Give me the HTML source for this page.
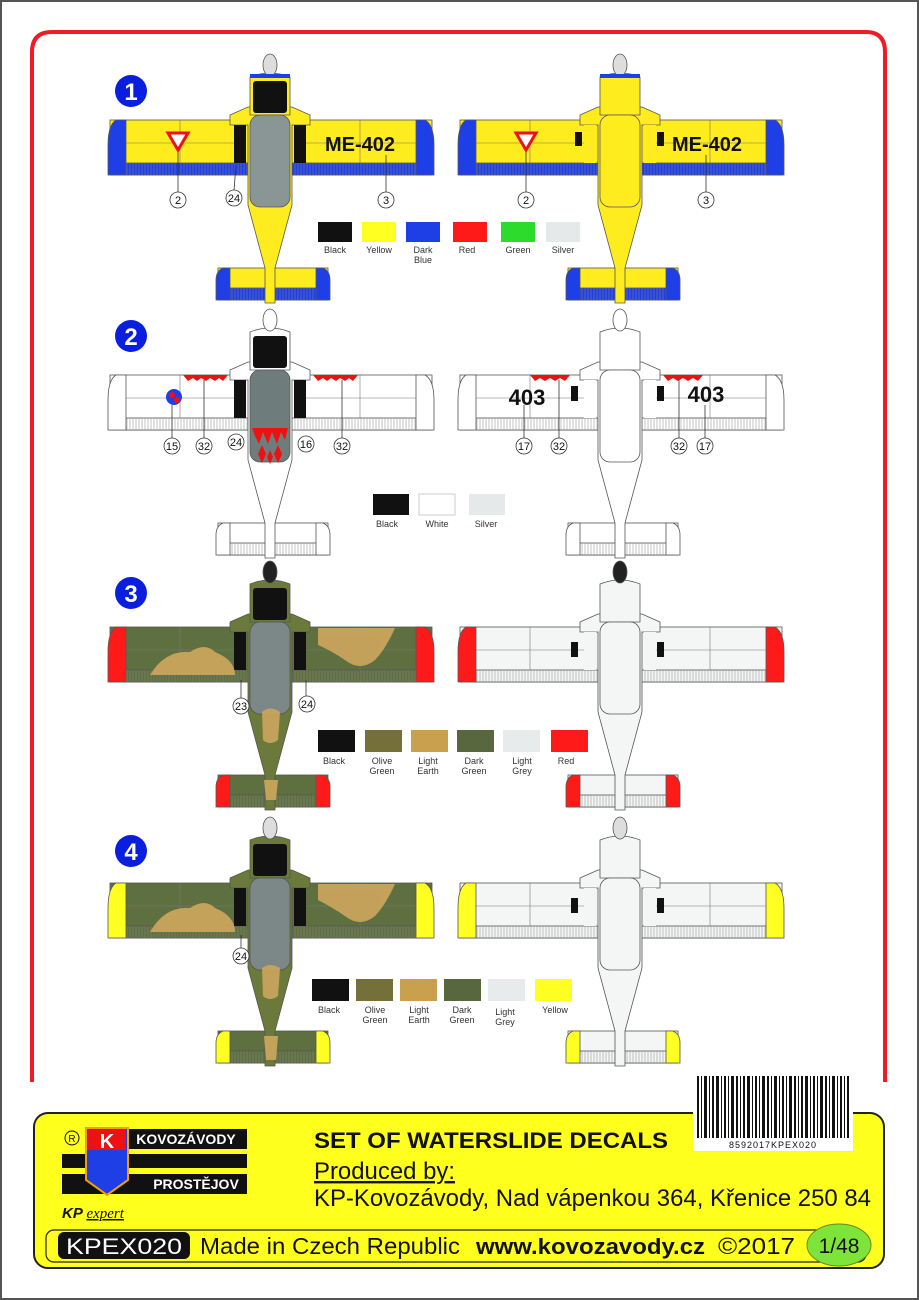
<!DOCTYPE html>
<html><head><meta charset="utf-8">
<style>
html,body{margin:0;padding:0;background:#fff;}
svg{display:block;}
text{font-family:"Liberation Sans",Arial,sans-serif;}
.w{stroke:#555;stroke-width:0.8;}
.lb{font-size:9px;fill:#333;text-anchor:middle;}
.cn{fill:#fff;stroke:#333;stroke-width:0.8;}
.cnt{font-size:11px;fill:#111;text-anchor:middle;}
</style></head><body>
<svg width="919" height="1300" viewBox="0 0 919 1300" xmlns="http://www.w3.org/2000/svg">
<defs>
<pattern id="hatch" width="3" height="10" patternUnits="userSpaceOnUse">
<line x1="1" y1="0" x2="1" y2="10" stroke="#888" stroke-width="0.5"/>
</pattern>
<g id="plane">
 <rect x="-160" y="65" width="322" height="55" fill="var(--w)" class="w"/>
 <rect x="-160" y="108" width="322" height="12" fill="var(--te)" class="w"/>
 <rect x="-144" y="108" width="290" height="12" fill="url(#hatch)"/>
 <path d="M-144 65 L-154 65 Q-162 70 -162 90 L-162 120 L-144 120 Z" fill="var(--t)" class="w"/>
 <path d="M146 65 L155 65 Q164 70 164 90 L164 120 L146 120 Z" fill="var(--t)" class="w"/>
 <line x1="-144" y1="88" x2="-30" y2="88" stroke="#777" stroke-width="0.6"/>
 <line x1="30" y1="88" x2="146" y2="88" stroke="#777" stroke-width="0.6"/>
 <line x1="-90" y1="65" x2="-90" y2="108" stroke="#777" stroke-width="0.6"/>
 <line x1="90" y1="65" x2="90" y2="108" stroke="#777" stroke-width="0.6"/>
 <rect x="-52" y="213" width="110" height="32" fill="var(--w)" class="w"/>
 <rect x="-52" y="233" width="110" height="12" fill="var(--te)" class="w"/>
 <rect x="-40" y="233" width="86" height="12" fill="url(#hatch)"/>
 <path d="M-40 213 L-47 213 Q-54 216 -54 225 L-54 245 L-40 245 Z" fill="var(--t)" class="w"/>
 <path d="M46 213 L53 213 Q60 216 60 225 L60 245 L46 245 Z" fill="var(--t)" class="w"/>
 <path d="M-40 60 L-22 52 L22 52 L40 60 L40 70 L22 70 L22 150 L5 213 L5 248 L-5 248 L-5 213 L-22 150 L-22 70 L-40 70 Z" fill="var(--f)" class="w"/>
 <path d="M-20 22 Q0 14 20 22 L20 60 L-20 60 Z" fill="var(--f)" class="w"/>
 <ellipse cx="0" cy="10" rx="7" ry="11" fill="var(--sp)" stroke="#555" stroke-width="0.8"/>
 <rect x="-17" y="26" width="34" height="32" rx="3" fill="var(--n)"/>
 <rect x="-20" y="60" width="40" height="92" rx="10" fill="var(--c)" class="w"/>
 <rect x="-36" y="70" width="12" height="38" fill="var(--p)"/>
 <rect x="24" y="70" width="12" height="38" fill="var(--p)"/>
</g>
</defs>

<rect x="1" y="1" width="917" height="1298" fill="#fff" stroke="#555" stroke-width="2"/>
<path d="M32 1082 L32 52 Q32 32 52 32 L866 32 Q885 32 885 52 L885 1082" fill="none" stroke="#ee1c24" stroke-width="4"/>

<g fill="#0a1ee0">
<circle cx="131" cy="91" r="16"/><circle cx="131" cy="336" r="16"/><circle cx="131" cy="593" r="16"/><circle cx="131" cy="851" r="16"/>
</g>
<g fill="#fff" font-weight="bold" font-size="24" text-anchor="middle" font-family="Liberation Sans">
<text x="131" y="100">1</text><text x="131" y="345">2</text><text x="131" y="602">3</text><text x="131" y="860">4</text>
</g>

<!-- Row 1 -->
<use href="#plane" x="270" y="55" style="--w:#ffec1e;--te:#1f3fe6;--t:#1f3fe6;--f:#ffec1e;--c:#8a9696;--n:#111;--p:#111;--sp:#ddd"/>
<rect x="250" y="74" width="40" height="4" fill="#1f3fe6"/>
<use href="#plane" x="620" y="55" style="--w:#ffec1e;--te:#1f3fe6;--t:#1f3fe6;--f:#ffec1e;--c:#ffec1e;--n:#ffec1e;--p:#ffec1e;--sp:#ddd"/>
<rect x="600" y="74" width="40" height="4" fill="#1f3fe6"/>
<rect x="575" y="132" width="7" height="14" fill="#111"/><rect x="657" y="132" width="7" height="14" fill="#111"/>
<text x="360" y="151" font-size="20" font-weight="bold" text-anchor="middle" fill="#111">ME-402</text>
<text x="707" y="151" font-size="20" font-weight="bold" text-anchor="middle" fill="#111">ME-402</text>
<path d="M168 133 L188 133 L178 150 Z" fill="#fff" stroke="#e11" stroke-width="3"/><path d="M516 133 L536 133 L526 150 Z" fill="#fff" stroke="#e11" stroke-width="3"/>
<g stroke="#333" stroke-width="0.8"><line x1="178" y1="152" x2="178" y2="192"/><line x1="236" y1="165" x2="234" y2="190"/><line x1="386" y1="155" x2="386" y2="192"/><line x1="526" y1="152" x2="526" y2="192"/><line x1="706" y1="155" x2="706" y2="192"/></g>
<circle class="cn" cx="178" cy="200" r="8"/><text class="cnt" x="178" y="204">2</text>
<circle class="cn" cx="234" cy="198" r="8"/><text class="cnt" x="234" y="202">24</text>
<circle class="cn" cx="386" cy="200" r="8"/><text class="cnt" x="386" y="204">3</text>
<circle class="cn" cx="526" cy="200" r="8"/><text class="cnt" x="526" y="204">2</text>
<circle class="cn" cx="706" cy="200" r="8"/><text class="cnt" x="706" y="204">3</text>
<rect x="318" y="222" width="34" height="20" fill="#111"/><rect x="362" y="222" width="34" height="20" fill="#ffff22"/><rect x="406" y="222" width="34" height="20" fill="#1f3fe6"/><rect x="453" y="222" width="34" height="20" fill="#ff1a1a"/><rect x="501" y="222" width="34" height="20" fill="#2ddb2d"/><rect x="546" y="222" width="34" height="20" fill="#e6e9e9"/>
<text class="lb" x="335" y="253">Black</text><text class="lb" x="379" y="253">Yellow</text><text class="lb" x="423" y="253">Dark</text><text class="lb" x="423" y="263">Blue</text><text class="lb" x="467" y="253">Red</text><text class="lb" x="518" y="253">Green</text><text class="lb" x="563" y="253">Silver</text>

<!-- Row 2 -->
<use href="#plane" x="270" y="310" style="--w:#fff;--te:#fff;--t:#fff;--f:#fff;--c:#6f7c7c;--n:#111;--p:#111;--sp:#fff"/>
<use href="#plane" x="620" y="310" style="--w:#fff;--te:#fff;--t:#fff;--f:#fff;--c:#fff;--n:#fff;--p:#fff;--sp:#fff"/>
<rect x="571" y="386" width="7" height="15" fill="#111"/><rect x="657" y="386" width="7" height="15" fill="#111"/>
<g fill="#e11">
<path d="M183 375 h45 l-5 6 -4-3 -4 3 -5-3 -4 3 -5-3 -4 3 -4-3 -5 3z"/>
<path d="M313 375 h45 l-5 6 -4-3 -4 3 -5-3 -4 3 -5-3 -4 3 -4-3 -5 3z"/>
<path d="M530 375 h40 l-5 6 -5-3 -5 3 -5-3 -5 3 -5-3 -5 3z"/>
<path d="M663 375 h40 l-5 6 -5-3 -5 3 -5-3 -5 3 -5-3 -5 3z"/>
<path d="M252 428 h36 l-3 12 -4-8 -4 12 -5-12 -4 12 -5-12 -4 12 -4-8z"/>
<path d="M262 445 l4 9 -4 9 -4-9z M278 445 l4 9 -4 9 -4-9z M270 450 l3 7 -3 7 -3-7z"/>
</g>
<circle cx="174" cy="397" r="8" fill="#1f3fe6"/><circle cx="172" cy="395" r="3" fill="#e11"/><circle cx="177" cy="400" r="3" fill="#e11"/>
<text x="527" y="405" font-size="22" font-weight="bold" text-anchor="middle" fill="#111">403</text>
<text x="706" y="402" font-size="22" font-weight="bold" text-anchor="middle" fill="#111">403</text>
<g stroke="#333" stroke-width="0.8"><line x1="172" y1="405" x2="172" y2="438"/><line x1="204" y1="380" x2="204" y2="438"/><line x1="342" y1="380" x2="342" y2="438"/><line x1="524" y1="405" x2="524" y2="438"/><line x1="559" y1="380" x2="559" y2="438"/><line x1="679" y1="380" x2="679" y2="438"/><line x1="705" y1="405" x2="705" y2="438"/></g>
<circle class="cn" cx="172" cy="446" r="8"/><text class="cnt" x="172" y="450">15</text>
<circle class="cn" cx="204" cy="446" r="8"/><text class="cnt" x="204" y="450">32</text>
<circle class="cn" cx="236" cy="442" r="8"/><text class="cnt" x="236" y="446">24</text>
<circle class="cn" cx="306" cy="444" r="8"/><text class="cnt" x="306" y="448">16</text>
<circle class="cn" cx="342" cy="446" r="8"/><text class="cnt" x="342" y="450">32</text>
<circle class="cn" cx="524" cy="446" r="8"/><text class="cnt" x="524" y="450">17</text>
<circle class="cn" cx="559" cy="446" r="8"/><text class="cnt" x="559" y="450">32</text>
<circle class="cn" cx="679" cy="446" r="8"/><text class="cnt" x="679" y="450">32</text>
<circle class="cn" cx="705" cy="446" r="8"/><text class="cnt" x="705" y="450">17</text>
<rect x="373" y="494" width="36" height="21" fill="#111"/><rect x="419" y="494" width="36" height="21" fill="#fff" stroke="#ccc"/><rect x="469" y="494" width="36" height="21" fill="#e6e9e9"/>
<text class="lb" x="387" y="527">Black</text><text class="lb" x="437" y="527">White</text><text class="lb" x="486" y="527">Silver</text>

<!-- Row 3 -->
<use href="#plane" x="270" y="562" style="--w:#5f7040;--te:#5f7040;--t:#ff1a1a;--f:#6b7a3a;--c:#7c8888;--n:#111;--p:#111;--sp:#222"/>
<g fill="#c9a45c" opacity="0.95">
<path d="M150 675 Q165 650 190 652 Q205 642 215 652 Q235 660 235 675 Z"/>
<path d="M318 628 L395 628 Q385 650 375 660 Q360 672 345 660 Q330 650 318 645 Z"/>
<path d="M262 712 Q270 705 280 712 L278 740 Q270 746 263 740 Z"/>
<path d="M264 780 L278 780 L276 800 L266 800 Z"/>
</g>
<use href="#plane" x="620" y="562" style="--w:#f4f5f5;--te:#f4f5f5;--t:#ff1a1a;--f:#f4f5f5;--c:#f4f5f5;--n:#f4f5f5;--p:#f4f5f5;--sp:#222"/>
<rect x="571" y="642" width="7" height="15" fill="#111"/><rect x="657" y="642" width="7" height="15" fill="#111"/>
<g stroke="#333" stroke-width="0.8"><line x1="241" y1="680" x2="241" y2="698"/><line x1="306" y1="680" x2="306" y2="696"/></g>
<circle class="cn" cx="241" cy="706" r="8"/><text class="cnt" x="241" y="710">23</text>
<circle class="cn" cx="307" cy="704" r="8"/><text class="cnt" x="307" y="708">24</text>
<rect x="318" y="730" width="37" height="22" fill="#111"/><rect x="365" y="730" width="37" height="22" fill="#75703a"/><rect x="411" y="730" width="37" height="22" fill="#c9a04e"/><rect x="457" y="730" width="37" height="22" fill="#59673e"/><rect x="503" y="730" width="37" height="22" fill="#e8ebeb"/><rect x="551" y="730" width="37" height="22" fill="#ff1a1a"/>
<text class="lb" x="334" y="764">Black</text><text class="lb" x="382" y="764">Olive</text><text class="lb" x="382" y="774">Green</text><text class="lb" x="428" y="764">Light</text><text class="lb" x="428" y="774">Earth</text><text class="lb" x="474" y="764">Dark</text><text class="lb" x="474" y="774">Green</text><text class="lb" x="522" y="764">Light</text><text class="lb" x="522" y="774">Grey</text><text class="lb" x="566" y="764">Red</text>

<!-- Row 4 -->
<use href="#plane" x="270" y="818" style="--w:#5f7040;--te:#5f7040;--t:#ffff22;--f:#6b7a3a;--c:#7c8888;--n:#111;--p:#111;--sp:#ddd"/>
<g fill="#c9a45c" opacity="0.95">
<path d="M150 932 Q165 906 190 908 Q205 898 215 908 Q235 916 235 932 Z"/>
<path d="M318 884 L395 884 Q385 906 375 916 Q360 928 345 916 Q330 906 318 900 Z"/>
<path d="M262 968 Q270 962 280 968 L278 996 Q270 1002 263 996 Z"/>
<path d="M264 1036 L278 1036 L276 1060 L266 1060 Z"/>
</g>
<use href="#plane" x="620" y="818" style="--w:#f4f5f5;--te:#f4f5f5;--t:#ffff22;--f:#f4f5f5;--c:#f4f5f5;--n:#f4f5f5;--p:#f4f5f5;--sp:#ddd"/>
<rect x="571" y="898" width="7" height="15" fill="#111"/><rect x="657" y="898" width="7" height="15" fill="#111"/>
<line x1="241" y1="935" x2="241" y2="948" stroke="#333" stroke-width="0.8"/>
<circle class="cn" cx="241" cy="956" r="8"/><text class="cnt" x="241" y="960">24</text>
<rect x="312" y="979" width="37" height="22" fill="#111"/><rect x="356" y="979" width="37" height="22" fill="#75703a"/><rect x="400" y="979" width="37" height="22" fill="#c9a04e"/><rect x="444" y="979" width="37" height="22" fill="#59673e"/><rect x="488" y="979" width="37" height="22" fill="#e8ebeb"/><rect x="535" y="979" width="37" height="22" fill="#ffff22"/>
<text class="lb" x="329" y="1013">Black</text><text class="lb" x="375" y="1013">Olive</text><text class="lb" x="375" y="1023">Green</text><text class="lb" x="419" y="1013">Light</text><text class="lb" x="419" y="1023">Earth</text><text class="lb" x="462" y="1013">Dark</text><text class="lb" x="462" y="1023">Green</text><text class="lb" x="505" y="1015">Light</text><text class="lb" x="505" y="1025">Grey</text><text class="lb" x="555" y="1013">Yellow</text>

<!-- Bottom panel -->
<rect x="34" y="1113" width="850" height="155" rx="14" fill="#ffff1e" stroke="#222" stroke-width="2"/>
<rect x="46" y="1230" width="820" height="32" rx="8" fill="none" stroke="#222" stroke-width="1.2"/>
<rect x="58" y="1232" width="132" height="27" rx="6" fill="#111"/>
<text x="124" y="1254" font-size="22" fill="#fff" text-anchor="middle" textLength="116" lengthAdjust="spacingAndGlyphs">KPEX020</text>
<text x="200" y="1254" font-size="23" fill="#111" textLength="260" lengthAdjust="spacingAndGlyphs">Made in Czech Republic</text>
<text x="476" y="1254" font-size="22" font-weight="bold" fill="#111" textLength="229" lengthAdjust="spacingAndGlyphs">www.kovozavody.cz</text>
<text x="718" y="1254" font-size="23" fill="#111" textLength="77" lengthAdjust="spacingAndGlyphs">©2017</text>
<ellipse cx="839" cy="1245" rx="32" ry="21" fill="#7fe43a" stroke="#6a8a20"/>
<text x="839" y="1253" font-size="21" fill="#111" text-anchor="middle">1/48</text>

<circle cx="72" cy="1138" r="7" fill="none" stroke="#111"/><text x="72" y="1142" font-size="10" text-anchor="middle" fill="#111">R</text>
<rect x="125" y="1129" width="122" height="20" fill="#111"/>
<text x="186" y="1144" font-size="14" font-weight="bold" fill="#fff" text-anchor="middle">KOVOZÁVODY</text>
<rect x="62" y="1154" width="185" height="14" fill="#111"/>
<rect x="62" y="1174" width="185" height="20" fill="#111"/>
<text x="196" y="1189" font-size="14" font-weight="bold" fill="#fff" text-anchor="middle">PROSTĚJOV</text>
<path d="M86 1128 L128 1128 L128 1180 L107 1195 L86 1180 Z" fill="#1f3fe6" stroke="#f0a000" stroke-width="2"/>
<rect x="88" y="1130" width="38" height="20" fill="#e11"/>
<text x="107" y="1148" font-size="20" font-weight="bold" fill="#fff" text-anchor="middle">K</text>
<text x="62" y="1218" font-size="15" font-weight="bold" font-style="italic" fill="#111">KP <tspan font-family="Liberation Serif" font-weight="normal" text-decoration="underline">expert</tspan></text>

<text x="314" y="1148" font-size="22" font-weight="bold" fill="#111" textLength="354" lengthAdjust="spacingAndGlyphs">SET OF WATERSLIDE DECALS</text>
<text x="314" y="1179" font-size="24" fill="#111" text-decoration="underline" textLength="141" lengthAdjust="spacingAndGlyphs">Produced by:</text>
<text x="314" y="1206" font-size="24" fill="#111" textLength="557" lengthAdjust="spacingAndGlyphs">KP-Kovozávody, Nad vápenkou 364, Křenice 250 84</text>

<rect x="693" y="1073" width="160" height="78" fill="#fff"/>
<g fill="#111">
<rect x="697" y="1076" width="2" height="62"/><rect x="701" y="1076" width="1" height="62"/><rect x="704" y="1076" width="3" height="62"/><rect x="709" y="1076" width="1" height="62"/><rect x="712" y="1076" width="2" height="62"/><rect x="716" y="1076" width="3" height="62"/><rect x="721" y="1076" width="1" height="62"/><rect x="724" y="1076" width="2" height="62"/><rect x="728" y="1076" width="1" height="62"/><rect x="731" y="1076" width="3" height="62"/><rect x="736" y="1076" width="2" height="62"/><rect x="740" y="1076" width="1" height="62"/><rect x="743" y="1076" width="2" height="62"/><rect x="747" y="1076" width="3" height="62"/><rect x="752" y="1076" width="1" height="62"/><rect x="755" y="1076" width="2" height="62"/><rect x="759" y="1076" width="1" height="62"/><rect x="762" y="1076" width="3" height="62"/><rect x="767" y="1076" width="2" height="62"/><rect x="771" y="1076" width="1" height="62"/><rect x="774" y="1076" width="3" height="62"/><rect x="779" y="1076" width="1" height="62"/><rect x="782" y="1076" width="2" height="62"/><rect x="786" y="1076" width="1" height="62"/><rect x="789" y="1076" width="3" height="62"/><rect x="794" y="1076" width="2" height="62"/><rect x="798" y="1076" width="1" height="62"/><rect x="801" y="1076" width="2" height="62"/><rect x="805" y="1076" width="3" height="62"/><rect x="810" y="1076" width="1" height="62"/><rect x="813" y="1076" width="2" height="62"/><rect x="817" y="1076" width="1" height="62"/><rect x="820" y="1076" width="3" height="62"/><rect x="825" y="1076" width="2" height="62"/><rect x="829" y="1076" width="1" height="62"/><rect x="832" y="1076" width="3" height="62"/><rect x="837" y="1076" width="1" height="62"/><rect x="840" y="1076" width="2" height="62"/><rect x="844" y="1076" width="1" height="62"/><rect x="847" y="1076" width="2" height="62"/>
</g>
<text x="773" y="1148" font-size="9" font-family="Liberation Serif" text-anchor="middle" fill="#111" letter-spacing="1">8592017KPEX020</text>
</svg>
</body></html>
